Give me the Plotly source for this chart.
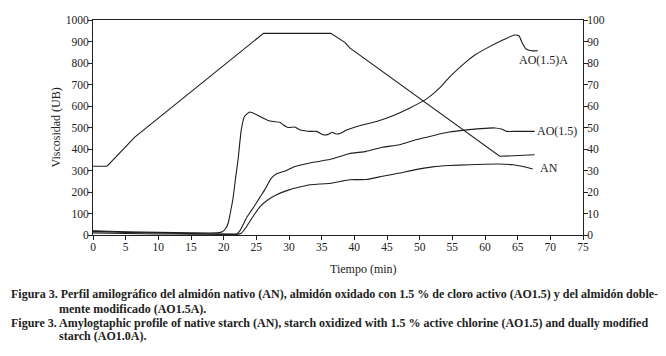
import plotly.graph_objects as go

# ---- data ----
an_t = [0, 5, 10, 15, 20, 22.0, 22.7, 23.3, 24.0, 24.8, 25.5, 26.8, 28.1, 30.1, 31.6, 33.2, 34.7,
        36.7, 38.0, 39.3, 41.8, 44.3, 46.9, 49.4, 52.0, 54.5, 57.6, 60.0, 62.0, 64.3, 65.8, 67.3]
an_v = [10, 7, 5, 4, 3, 3, 8, 30, 63, 100, 130, 164, 187, 211, 223, 234, 237,
        242, 250, 257, 258, 273, 288, 304, 317, 323, 327, 329, 330, 327, 319, 307]

ao15_t = [0, 5, 10, 15, 20, 22.0, 22.5, 23.0, 23.5, 24.2, 25.0, 25.6, 26.3, 27.3, 28.1, 29.3, 30.9,
          33.2, 34.5, 36.7, 39.2, 41.8, 44.3, 46.9, 49.4, 52.0, 54.5, 57.6, 60.0, 61.5, 62.5, 63.3,
          65.0, 67.6]
ao15_v = [17, 12, 9, 7, 5, 5, 20, 50, 80, 112, 149, 178, 211, 265, 285, 296, 319,
          335, 342, 355, 378, 389, 408, 420, 443, 462, 479, 490, 496, 498, 493, 482,
          482, 482]

ao15a_t = [0, 5, 10, 15, 19.0, 19.8, 20.3, 20.7, 21.0, 21.4, 21.8, 22.2, 22.7, 23.2, 24.0, 25.0,
           26.0, 26.8, 27.6, 28.6, 29.1, 29.85, 30.9, 31.6, 32.4, 33.2, 34.2, 35.2, 36.0, 36.6,
           37.2, 37.8, 38.8, 40.8, 43.4, 45.9, 48.5, 51.0, 52.0, 53.1, 54.6, 57.1, 58.5, 60.2,
           62.8, 64.5, 65.2, 65.7, 66.3, 67.1, 68.1]
ao15a_v = [20, 15, 12, 10, 10, 15, 30, 56, 100, 164, 260, 350, 490, 552, 572, 560,
           544, 533, 528, 524, 513, 500, 502, 490, 485, 482, 482, 466, 468, 478,
           470, 472, 488, 508, 528, 555, 591, 632, 655, 685, 735, 805, 838, 868,
           908, 930, 927, 893, 865, 857, 857]

temp_t = [0, 2.15, 6.4, 26.1, 36.4, 38.6, 39.3, 62.25, 67.6]
temp_v = [32, 32, 45.5, 93.8, 93.8, 89.5, 87.0, 36.6, 37.3]

x_ticks = list(range(0, 80, 5))
y_ticks = list(range(0, 1100, 100))
y2_ticks = list(range(0, 110, 10))

series_labels = ["AO(1.5)A", "AO(1.5)", "AN"]
label_pos_t = [65.2, 67.9, 68.4]
label_pos_v = [815, 486, 311]

caption = [
    "Figura 3. Perfil amilográfico del almidón nativo (AN), almidón oxidado con 1.5 % de cloro activo (AO1.5) y del almidón doble-",
    "mente modificado (AO1.5A).",
    "Figure 3. Amylogtaphic profile of native starch (AN), starch oxidized with 1.5 % active chlorine (AO1.5) and dually modified",
    "starch (AO1.0A).",
]

FONT = "Liberation Serif, DejaVu Serif, serif"
INK = "#222"
LINE = dict(color="#1e1e1e", width=1.1)

# The page body adds an 8px offset; the figure is sized so the plot area lands
# at page x 93..583, y 20..235.
OFF = 8
PL, PR, PT, PB = 93, 583, 20, 235


def px2paper_x(px):
    return (px - PL) / (PR - PL)


def px2paper_y(py):
    return (PB - py) / (PB - PT)


fig = go.Figure()
for t, v in [(ao15a_t, ao15a_v), (ao15_t, ao15_v), (an_t, an_v)]:
    fig.add_trace(go.Scatter(x=t, y=v, mode="lines", line=dict(**LINE, shape="spline", smoothing=0.5),
                             showlegend=False, hoverinfo="skip"))
fig.add_trace(go.Scatter(x=temp_t, y=temp_v, mode="lines", line=LINE, yaxis="y2",
                         showlegend=False, hoverinfo="skip"))

axis_common = dict(showline=True, linecolor=INK, linewidth=1, ticks="outside", ticklen=4,
                   tickcolor=INK, showgrid=False, zeroline=False, ticklabelstandoff=-3,
                   tickfont=dict(family=FONT, size=11.5, color=INK))

W, H = 666 - OFF, 356 - OFF
fig.update_layout(
    width=W, height=H,
    margin=dict(l=PL - OFF, r=W - (PR - OFF), t=PT - OFF, b=H - (PB - OFF), autoexpand=False),
    paper_bgcolor="white", plot_bgcolor="white",
    xaxis=dict(range=[0, 75], tickvals=x_ticks, mirror=True, **axis_common),
    yaxis=dict(range=[0, 1000], tickvals=y_ticks, **axis_common),
    yaxis2=dict(range=[0, 100], tickvals=y2_ticks, overlaying="y", side="right", **axis_common),
)

for lab, t, v in zip(series_labels, label_pos_t, label_pos_v):
    fig.add_annotation(x=t, y=v, xref="x", yref="y", text=lab, showarrow=False,
                       xanchor="left", yanchor="middle", xshift=-2,
                       font=dict(family=FONT, size=12, color=INK))

# axis titles
fig.add_annotation(x=px2paper_x(55), y=0.5, xref="paper", yref="paper", text="Viscosidad (UB)",
                   textangle=-90, showarrow=False, xanchor="center", yanchor="middle",
                   font=dict(family=FONT, size=12, color=INK))
fig.add_annotation(x=41.4, y=px2paper_y(269), xref="x", yref="paper", text="Tiempo (min)",
                   showarrow=False, xanchor="center", yanchor="middle",
                   font=dict(family=FONT, size=12, color=INK))

# caption
cap_x = [9, 57, 9, 57]
cap_y = [294, 308.5, 322.5, 336.5]
for txt, px, py in zip(caption, cap_x, cap_y):
    fig.add_annotation(x=px2paper_x(px), y=px2paper_y(py), xref="paper", yref="paper",
                       text="<b>" + txt + "</b>", showarrow=False, xanchor="left", yanchor="middle",
                       font=dict(family=FONT, size=12, color=INK))

fig.write_html("out.html")
